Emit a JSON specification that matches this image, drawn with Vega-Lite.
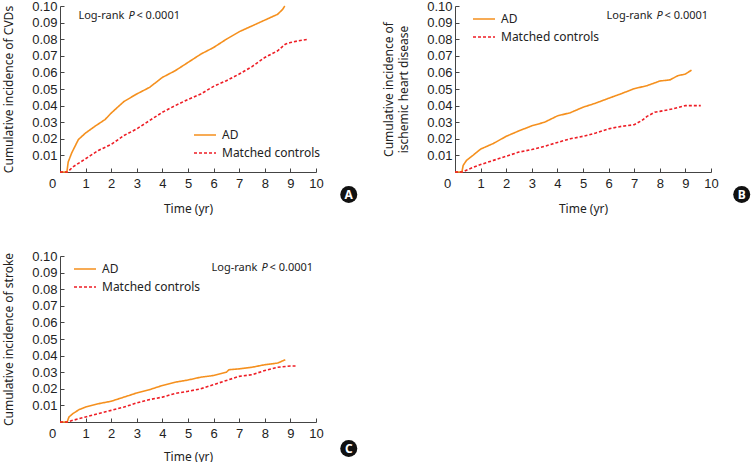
{
  "$schema": "https://vega.github.io/schema/vega-lite/v6.json",
  "padding": {"left": 2, "top": 0, "right": 0, "bottom": 0},
  "background": "white",
  "datasets": {
    "km": [
      {"p":"A","g":"AD","t":0,"c":0},{"p":"A","g":"AD","t":0.27,"c":0},{"p":"A","g":"AD","t":0.32,"c":0.006},{"p":"A","g":"AD","t":0.46,"c":0.0116},{"p":"A","g":"AD","t":0.72,"c":0.0196},{"p":"A","g":"AD","t":1,"c":0.0235},{"p":"A","g":"AD","t":1.37,"c":0.0276},{"p":"A","g":"AD","t":1.76,"c":0.0316},{"p":"A","g":"AD","t":2,"c":0.0355},{"p":"A","g":"AD","t":2.5,"c":0.0425},{"p":"A","g":"AD","t":3,"c":0.047},{"p":"A","g":"AD","t":3.5,"c":0.051},{"p":"A","g":"AD","t":4,"c":0.057},{"p":"A","g":"AD","t":4.5,"c":0.061},{"p":"A","g":"AD","t":5,"c":0.066},{"p":"A","g":"AD","t":5.5,"c":0.071},{"p":"A","g":"AD","t":6,"c":0.075},{"p":"A","g":"AD","t":6.5,"c":0.080},{"p":"A","g":"AD","t":7,"c":0.0845},{"p":"A","g":"AD","t":7.5,"c":0.088},{"p":"A","g":"AD","t":8,"c":0.0915},{"p":"A","g":"AD","t":8.5,"c":0.095},{"p":"A","g":"AD","t":8.7,"c":0.098},{"p":"A","g":"AD","t":8.78,"c":0.100},
      {"p":"A","g":"Matched controls","t":0,"c":0},{"p":"A","g":"Matched controls","t":0.3,"c":0},{"p":"A","g":"Matched controls","t":0.5,"c":0.003},{"p":"A","g":"Matched controls","t":0.8,"c":0.006},{"p":"A","g":"Matched controls","t":1,"c":0.008},{"p":"A","g":"Matched controls","t":1.2,"c":0.010},{"p":"A","g":"Matched controls","t":1.5,"c":0.013},{"p":"A","g":"Matched controls","t":2,"c":0.0166},{"p":"A","g":"Matched controls","t":2.5,"c":0.022},{"p":"A","g":"Matched controls","t":3,"c":0.026},{"p":"A","g":"Matched controls","t":3.5,"c":0.031},{"p":"A","g":"Matched controls","t":4,"c":0.036},{"p":"A","g":"Matched controls","t":4.5,"c":0.040},{"p":"A","g":"Matched controls","t":5,"c":0.0437},{"p":"A","g":"Matched controls","t":5.5,"c":0.047},{"p":"A","g":"Matched controls","t":6,"c":0.0516},{"p":"A","g":"Matched controls","t":6.5,"c":0.055},{"p":"A","g":"Matched controls","t":7,"c":0.059},{"p":"A","g":"Matched controls","t":7.5,"c":0.0635},{"p":"A","g":"Matched controls","t":8,"c":0.069},{"p":"A","g":"Matched controls","t":8.5,"c":0.073},{"p":"A","g":"Matched controls","t":8.8,"c":0.077},{"p":"A","g":"Matched controls","t":9,"c":0.078},{"p":"A","g":"Matched controls","t":9.3,"c":0.079},{"p":"A","g":"Matched controls","t":9.7,"c":0.080},
      {"p":"B","g":"AD","t":0,"c":0},{"p":"B","g":"AD","t":0.27,"c":0},{"p":"B","g":"AD","t":0.32,"c":0.004},{"p":"B","g":"AD","t":0.45,"c":0.007},{"p":"B","g":"AD","t":0.7,"c":0.010},{"p":"B","g":"AD","t":1,"c":0.0138},{"p":"B","g":"AD","t":1.5,"c":0.0172},{"p":"B","g":"AD","t":2,"c":0.0215},{"p":"B","g":"AD","t":2.5,"c":0.0248},{"p":"B","g":"AD","t":3,"c":0.0278},{"p":"B","g":"AD","t":3.5,"c":0.030},{"p":"B","g":"AD","t":4,"c":0.0338},{"p":"B","g":"AD","t":4.5,"c":0.0357},{"p":"B","g":"AD","t":5,"c":0.039},{"p":"B","g":"AD","t":5.5,"c":0.0415},{"p":"B","g":"AD","t":6,"c":0.0444},{"p":"B","g":"AD","t":6.5,"c":0.0472},{"p":"B","g":"AD","t":7,"c":0.0502},{"p":"B","g":"AD","t":7.5,"c":0.052},{"p":"B","g":"AD","t":8,"c":0.0548},{"p":"B","g":"AD","t":8.4,"c":0.0555},{"p":"B","g":"AD","t":8.7,"c":0.058},{"p":"B","g":"AD","t":9,"c":0.059},{"p":"B","g":"AD","t":9.24,"c":0.0614},
      {"p":"B","g":"Matched controls","t":0,"c":0},{"p":"B","g":"Matched controls","t":0.3,"c":0},{"p":"B","g":"Matched controls","t":0.5,"c":0.0015},{"p":"B","g":"Matched controls","t":1,"c":0.0045},{"p":"B","g":"Matched controls","t":1.5,"c":0.007},{"p":"B","g":"Matched controls","t":2,"c":0.0095},{"p":"B","g":"Matched controls","t":2.5,"c":0.012},{"p":"B","g":"Matched controls","t":3,"c":0.0135},{"p":"B","g":"Matched controls","t":3.5,"c":0.0155},{"p":"B","g":"Matched controls","t":4,"c":0.0178},{"p":"B","g":"Matched controls","t":4.5,"c":0.020},{"p":"B","g":"Matched controls","t":5,"c":0.0215},{"p":"B","g":"Matched controls","t":5.5,"c":0.0235},{"p":"B","g":"Matched controls","t":6,"c":0.026},{"p":"B","g":"Matched controls","t":6.5,"c":0.0275},{"p":"B","g":"Matched controls","t":7,"c":0.0285},{"p":"B","g":"Matched controls","t":7.3,"c":0.031},{"p":"B","g":"Matched controls","t":7.5,"c":0.0335},{"p":"B","g":"Matched controls","t":7.8,"c":0.036},{"p":"B","g":"Matched controls","t":8,"c":0.0365},{"p":"B","g":"Matched controls","t":8.5,"c":0.038},{"p":"B","g":"Matched controls","t":9,"c":0.040},{"p":"B","g":"Matched controls","t":9.6,"c":0.040},
      {"p":"C","g":"AD","t":0,"c":0},{"p":"C","g":"AD","t":0.28,"c":0},{"p":"C","g":"AD","t":0.35,"c":0.003},{"p":"C","g":"AD","t":0.5,"c":0.005},{"p":"C","g":"AD","t":0.75,"c":0.0075},{"p":"C","g":"AD","t":1,"c":0.009},{"p":"C","g":"AD","t":1.5,"c":0.011},{"p":"C","g":"AD","t":2,"c":0.0125},{"p":"C","g":"AD","t":2.5,"c":0.015},{"p":"C","g":"AD","t":3,"c":0.0175},{"p":"C","g":"AD","t":3.5,"c":0.0195},{"p":"C","g":"AD","t":4,"c":0.022},{"p":"C","g":"AD","t":4.5,"c":0.024},{"p":"C","g":"AD","t":5,"c":0.0253},{"p":"C","g":"AD","t":5.5,"c":0.027},{"p":"C","g":"AD","t":6,"c":0.028},{"p":"C","g":"AD","t":6.5,"c":0.030},{"p":"C","g":"AD","t":6.6,"c":0.0315},{"p":"C","g":"AD","t":7,"c":0.032},{"p":"C","g":"AD","t":7.5,"c":0.033},{"p":"C","g":"AD","t":8,"c":0.0345},{"p":"C","g":"AD","t":8.5,"c":0.0355},{"p":"C","g":"AD","t":8.8,"c":0.0375},
      {"p":"C","g":"Matched controls","t":0,"c":0},{"p":"C","g":"Matched controls","t":0.3,"c":0},{"p":"C","g":"Matched controls","t":0.5,"c":0.001},{"p":"C","g":"Matched controls","t":1,"c":0.003},{"p":"C","g":"Matched controls","t":1.5,"c":0.005},{"p":"C","g":"Matched controls","t":2,"c":0.007},{"p":"C","g":"Matched controls","t":2.5,"c":0.009},{"p":"C","g":"Matched controls","t":3,"c":0.0115},{"p":"C","g":"Matched controls","t":3.5,"c":0.0135},{"p":"C","g":"Matched controls","t":4,"c":0.015},{"p":"C","g":"Matched controls","t":4.5,"c":0.0172},{"p":"C","g":"Matched controls","t":5,"c":0.0185},{"p":"C","g":"Matched controls","t":5.5,"c":0.020},{"p":"C","g":"Matched controls","t":6,"c":0.0225},{"p":"C","g":"Matched controls","t":6.5,"c":0.025},{"p":"C","g":"Matched controls","t":7,"c":0.0275},{"p":"C","g":"Matched controls","t":7.5,"c":0.0285},{"p":"C","g":"Matched controls","t":8,"c":0.031},{"p":"C","g":"Matched controls","t":8.5,"c":0.033},{"p":"C","g":"Matched controls","t":9,"c":0.0337},{"p":"C","g":"Matched controls","t":9.2,"c":0.0337}
    ]
  },
  "bounds": "flush",
  "columns": 2,
  "spacing": {"row": 84, "column": 139},
  "resolve": {"scale": {"color": "independent", "strokeDash": "independent"}, "legend": {"color": "independent", "strokeDash": "independent"}},
  "concat": [
    {
      "width": 256, "height": 166,
      "layer": [
        {
          "data": {"name": "km"},
          "transform": [{"filter": "datum.p == 'A'"}],
          "mark": {"type": "line", "strokeWidth": 1.6},
          "encoding": {
            "x": {"field": "t", "type": "quantitative", "scale": {"domain": [0, 10], "nice": false}, "axis": {"title": "Time (yr)", "values": [0,1,2,3,4,5,6,7,8,9,10], "format": "d", "tickCount": 50, "labelOverlap": false, "labelFlush": false, "labelFont": "Liberation Sans", "labelFontSize": 13, "labelPadding": 9, "titlePadding": 13, "tickSize": -4, "labelOffset": {"expr": "datum.value == 0 ? -8 : 0"}}},
            "y": {"field": "c", "type": "quantitative", "scale": {"domain": [0, 0.1], "nice": false}, "axis": {"title": "Cumulative incidence of CVDs", "values": [0.01,0.02,0.03,0.04,0.05,0.06,0.07,0.08,0.09,0.1], "tickCount": 50, "format": ".2f", "labelOverlap": false, "labelFlush": false, "labelFont": "Liberation Sans", "labelFontSize": 13, "labelPadding": 7, "titlePadding": 16, "tickSize": -4}},
            "color": {"field": "g", "type": "nominal", "scale": {"domain": ["AD", "Matched controls"], "range": ["#F5901E", "#EE1D25"]}, "legend": {"orient": "none", "legendX": 133, "legendY": 120, "title": null}},
            "strokeDash": {"field": "g", "type": "nominal", "scale": {"domain": ["AD", "Matched controls"], "range": [[1, 0], [3, 2]]}, "legend": {"orient": "none", "legendX": 133, "legendY": 120, "title": null}}
          }
        },
        {"data": {"values": [{}]}, "mark": {"type": "text", "text": "Log-rank", "align": "left", "baseline": "middle"}, "encoding": {"x": {"datum": 0.72}, "y": {"datum": 0.094}}},
        {"data": {"values": [{}]}, "mark": {"type": "text", "text": "P", "align": "left", "baseline": "middle", "fontStyle": "italic", "dx": 50}, "encoding": {"x": {"datum": 0.72}, "y": {"datum": 0.094}}},
        {"data": {"values": [{}]}, "mark": {"type": "text", "text": "< 0.0001", "align": "left", "baseline": "middle", "dx": 58}, "encoding": {"x": {"datum": 0.72}, "y": {"datum": 0.094}}},
        {"data": {"values": [{}]}, "mark": {"type": "point", "filled": true, "size": 290, "color": "#111", "opacity": 1}, "encoding": {"x": {"datum": 11.28}, "y": {"datum": -0.0135}}},
        {"data": {"values": [{}]}, "mark": {"type": "text", "text": "A", "align": "center", "baseline": "middle", "color": "white", "fontWeight": "bold", "fontSize": 12, "dy": 0.5}, "encoding": {"x": {"datum": 11.28}, "y": {"datum": -0.0135}}}
      ]
    },
    {
      "width": 256, "height": 166,
      "layer": [
        {
          "data": {"name": "km"},
          "transform": [{"filter": "datum.p == 'B'"}],
          "mark": {"type": "line", "strokeWidth": 1.6},
          "encoding": {
            "x": {"field": "t", "type": "quantitative", "scale": {"domain": [0, 10], "nice": false}, "axis": {"title": "Time (yr)", "values": [0,1,2,3,4,5,6,7,8,9,10], "format": "d", "tickCount": 50, "labelOverlap": false, "labelFlush": false, "labelFont": "Liberation Sans", "labelFontSize": 13, "labelPadding": 9, "titlePadding": 13, "tickSize": -4, "labelOffset": {"expr": "datum.value == 0 ? -8 : 0"}}},
            "y": {"field": "c", "type": "quantitative", "scale": {"domain": [0, 0.1], "nice": false}, "axis": {"title": ["Cumulative incidence of", "ischemic heart disease"], "titleLineHeight": 15, "values": [0.01,0.02,0.03,0.04,0.05,0.06,0.07,0.08,0.09,0.1], "tickCount": 50, "format": ".2f", "labelOverlap": false, "labelFlush": false, "labelFont": "Liberation Sans", "labelFontSize": 13, "labelPadding": 7, "titlePadding": 16, "tickSize": -4}},
            "color": {"field": "g", "type": "nominal", "scale": {"domain": ["AD", "Matched controls"], "range": ["#F5901E", "#EE1D25"]}, "legend": {"orient": "none", "legendX": 17, "legendY": 4, "title": null}},
            "strokeDash": {"field": "g", "type": "nominal", "scale": {"domain": ["AD", "Matched controls"], "range": [[1, 0], [3, 2]]}, "legend": {"orient": "none", "legendX": 17, "legendY": 4, "title": null}}
          }
        },
        {"data": {"values": [{}]}, "mark": {"type": "text", "text": "Log-rank", "align": "left", "baseline": "middle"}, "encoding": {"x": {"datum": 5.92}, "y": {"datum": 0.094}}},
        {"data": {"values": [{}]}, "mark": {"type": "text", "text": "P", "align": "left", "baseline": "middle", "fontStyle": "italic", "dx": 50}, "encoding": {"x": {"datum": 5.92}, "y": {"datum": 0.094}}},
        {"data": {"values": [{}]}, "mark": {"type": "text", "text": "< 0.0001", "align": "left", "baseline": "middle", "dx": 58}, "encoding": {"x": {"datum": 5.92}, "y": {"datum": 0.094}}},
        {"data": {"values": [{}]}, "mark": {"type": "point", "filled": true, "size": 290, "color": "#111", "opacity": 1}, "encoding": {"x": {"datum": 11.2}, "y": {"datum": -0.0135}}},
        {"data": {"values": [{}]}, "mark": {"type": "text", "text": "B", "align": "center", "baseline": "middle", "color": "white", "fontWeight": "bold", "fontSize": 12, "dy": 0.5}, "encoding": {"x": {"datum": 11.2}, "y": {"datum": -0.0135}}}
      ]
    },
    {
      "width": 256, "height": 166,
      "layer": [
        {
          "data": {"name": "km"},
          "transform": [{"filter": "datum.p == 'C'"}],
          "mark": {"type": "line", "strokeWidth": 1.6},
          "encoding": {
            "x": {"field": "t", "type": "quantitative", "scale": {"domain": [0, 10], "nice": false}, "axis": {"title": "Time (yr)", "values": [0,1,2,3,4,5,6,7,8,9,10], "format": "d", "tickCount": 50, "labelOverlap": false, "labelFlush": false, "labelFont": "Liberation Sans", "labelFontSize": 13, "labelPadding": 9, "titlePadding": 11, "tickSize": -4, "labelOffset": {"expr": "datum.value == 0 ? -8 : 0"}}},
            "y": {"field": "c", "type": "quantitative", "scale": {"domain": [0, 0.1], "nice": false}, "axis": {"title": "Cumulative incidence of stroke", "values": [0.01,0.02,0.03,0.04,0.05,0.06,0.07,0.08,0.09,0.1], "tickCount": 50, "format": ".2f", "labelOverlap": false, "labelFlush": false, "labelFont": "Liberation Sans", "labelFontSize": 13, "labelPadding": 7, "titlePadding": 16, "tickSize": -4}},
            "color": {"field": "g", "type": "nominal", "scale": {"domain": ["AD", "Matched controls"], "range": ["#F5901E", "#EE1D25"]}, "legend": {"orient": "none", "legendX": 13, "legendY": 4, "title": null}},
            "strokeDash": {"field": "g", "type": "nominal", "scale": {"domain": ["AD", "Matched controls"], "range": [[1, 0], [3, 2]]}, "legend": {"orient": "none", "legendX": 13, "legendY": 4, "title": null}}
          }
        },
        {"data": {"values": [{}]}, "mark": {"type": "text", "text": "Log-rank", "align": "left", "baseline": "middle"}, "encoding": {"x": {"datum": 5.92}, "y": {"datum": 0.093}}},
        {"data": {"values": [{}]}, "mark": {"type": "text", "text": "P", "align": "left", "baseline": "middle", "fontStyle": "italic", "dx": 50}, "encoding": {"x": {"datum": 5.92}, "y": {"datum": 0.093}}},
        {"data": {"values": [{}]}, "mark": {"type": "text", "text": "< 0.0001", "align": "left", "baseline": "middle", "dx": 58}, "encoding": {"x": {"datum": 5.92}, "y": {"datum": 0.093}}},
        {"data": {"values": [{}]}, "mark": {"type": "point", "filled": true, "size": 290, "color": "#111", "opacity": 1}, "encoding": {"x": {"datum": 11.28}, "y": {"datum": -0.016}}},
        {"data": {"values": [{}]}, "mark": {"type": "text", "text": "C", "align": "center", "baseline": "middle", "color": "white", "fontWeight": "bold", "fontSize": 12, "dy": 0.5}, "encoding": {"x": {"datum": 11.28}, "y": {"datum": -0.016}}}
      ]
    }
  ],
  "config": {
    "view": {"stroke": null},
    "axis": {"grid": false, "domainColor": "#444", "tickColor": "#444", "labelColor": "#222", "titleFont": "Noto Sans", "titleFontSize": 12, "titleFontWeight": "normal", "titleColor": "#222"},
    "legend": {"labelFont": "Noto Sans", "labelFontSize": 12, "labelColor": "#222", "symbolType": "stroke", "symbolSize": 484, "symbolStrokeWidth": 1.6, "clipHeight": 18, "rowPadding": 0, "labelOffset": 5, "padding": 0},
    "text": {"font": "Noto Sans", "fontSize": 11, "color": "#222"}
  }
}
